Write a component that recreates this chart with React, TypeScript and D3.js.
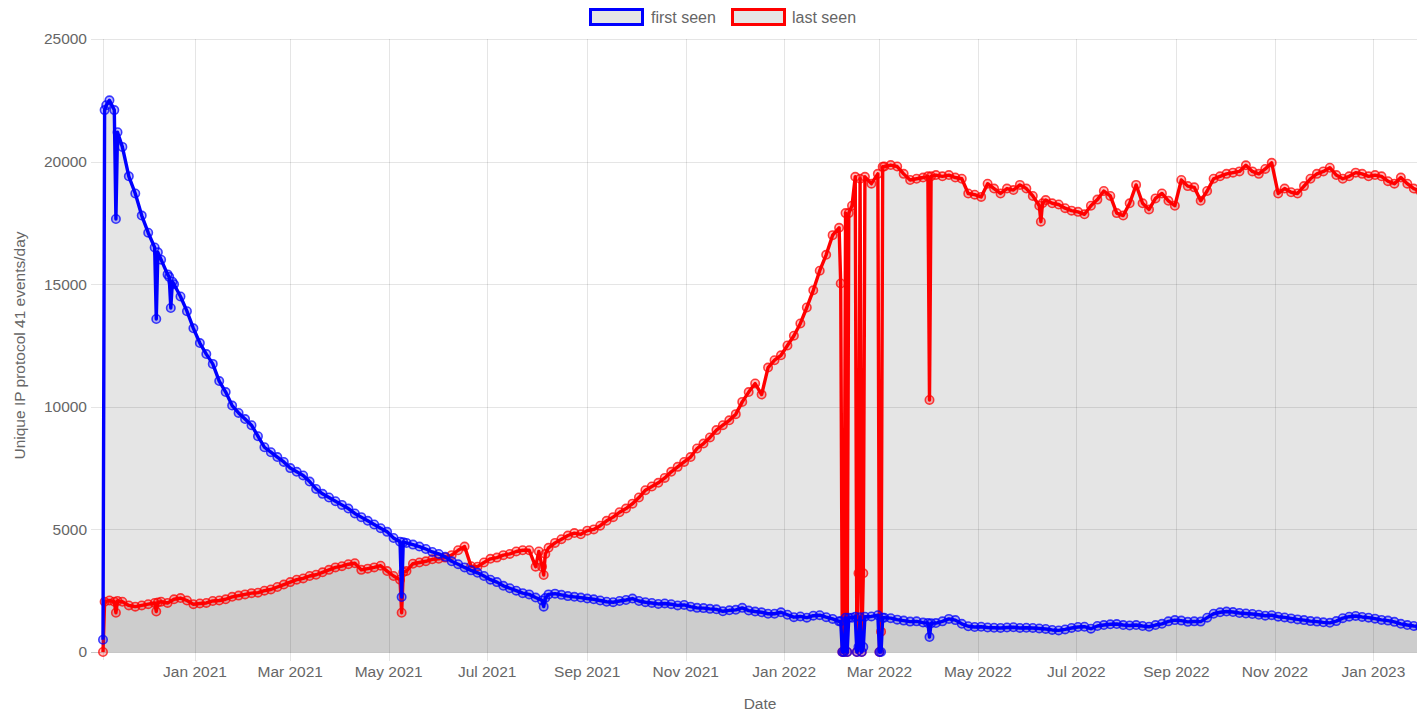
import React from "react";
import * as d3 from "d3";

// ---------- data ----------
const START_DATE = "2020-11-05";
const STEP_DAYS = 4;
const END_DATE = "2023-01-28";

// "first seen" values every STEP_DAYS from START_DATE
const firstSeen = [
  500, 22500, 17660, 20600, 19400, 18700, 17800, 17100, 16500, 16000,
  15400, 15000, 14500, 13900, 13200, 12600, 12150, 11750, 11050, 10600,
  10050, 9750, 9500, 9250, 8800, 8350, 8150, 7950, 7750, 7500,
  7350, 7200, 6950, 6650, 6450, 6300, 6150, 6000, 5850, 5650,
  5500, 5350, 5200, 5050, 4900, 4650, 4500, 4450, 4380, 4300,
  4200, 4080, 4000, 3880, 3700, 3580, 3450, 3330, 3230, 3100,
  2950, 2850, 2700, 2600, 2500, 2400, 2350, 2220, 2100, 2350,
  2380, 2330, 2280, 2250, 2220, 2180, 2150, 2100, 2050, 2030,
  2080, 2120, 2180, 2080, 2030, 2000, 1960, 1980, 1950, 1900,
  1920, 1850, 1800, 1790, 1760, 1740, 1660, 1700, 1720, 1800,
  1690, 1650, 1620, 1560, 1560, 1620, 1520, 1420, 1450, 1400,
  1480, 1500, 1420, 1350, 1250, 1400, 1400, 1440, 1440, 1450,
  1500, 1400, 1380, 1320, 1280, 1240, 1250, 1200, 1150, 1180,
  1250, 1350, 1300, 1150, 1050, 1020, 1030, 1000, 990, 980,
  1000, 1010, 980, 990, 980, 960, 940, 900, 880, 920,
  980, 1020, 1030, 950, 1060, 1100, 1130, 1140, 1100, 1080,
  1100, 1060, 1030, 1100, 1150, 1250, 1300, 1280, 1230, 1250,
  1240, 1400, 1560, 1620, 1650, 1630, 1590, 1570, 1550, 1520,
  1480, 1500, 1440, 1410, 1370, 1330, 1300, 1260, 1240, 1210,
  1190, 1260, 1380, 1440, 1470, 1430, 1400, 1360, 1310, 1280,
  1230, 1150, 1100, 1060, 1030,
];

// "last seen" values every STEP_DAYS from START_DATE
const lastSeen = [
  0, 2100, 1600, 2050, 1900, 1850, 1900, 1950, 2000, 2050,
  2000, 2150, 2200, 2100, 1950, 1980, 2000, 2080, 2100, 2150,
  2250, 2300, 2350, 2400, 2420, 2500, 2550, 2650, 2750, 2850,
  2950, 3000, 3100, 3150, 3250, 3350, 3450, 3500, 3580, 3620,
  3350, 3400, 3450, 3520, 3300, 3100, 2950, 3300, 3600, 3650,
  3700, 3780, 3800, 3850, 3950, 4150, 4300, 3500, 3480, 3650,
  3800, 3850, 3950, 4000, 4100, 4150, 4150, 4050, 3480, 4250,
  4450, 4600, 4750, 4850, 4800, 4950, 5000, 5150, 5350, 5500,
  5700, 5850, 6050, 6300, 6600, 6750, 6900, 7100, 7350, 7550,
  7750, 7950, 8300, 8500, 8750, 9050, 9250, 9450, 9700, 10200,
  10600, 10950, 10500, 11600, 11900, 12100, 12500, 12900, 13400, 14050,
  14750, 15550, 16200, 17000, 17300, 17900, 18200, 19380, 19380, 19100,
  19500, 19800, 19860, 19800, 19500, 19250, 19300, 19350, 19400, 19450,
  19400, 19450, 19350, 19300, 18700, 18650, 18560, 19100, 18900, 18700,
  18900, 18840, 19050, 18900, 18600, 18200, 18430, 18300, 18250, 18100,
  18000, 17950, 17850, 18200, 18450, 18800, 18600, 17900, 17800, 18300,
  19050, 18300, 18050, 18500, 18700, 18400, 18200, 19250, 19000, 18950,
  18400, 18800, 19300, 19400, 19500, 19550, 19600, 19850, 19600, 19500,
  19700, 19950, 18700, 18900, 18750, 18700, 19000, 19300, 19500, 19600,
  19750, 19450, 19300, 19400, 19550, 19500, 19400, 19450, 19400, 19200,
  19100, 19350, 19100, 18900, 18800,
];

// individual days (dips / gaps)
const firstSeenExtra: [string, number][] = [
  ["2020-11-06", 22100], ["2020-11-07", 22300], ["2020-11-12", 22100], ["2020-11-14", 21200],
  ["2020-12-08", 13580], ["2020-12-09", 16300], ["2020-12-16", 15300], ["2020-12-17", 14030],
  ["2020-12-18", 15100], ["2021-05-09", 2240], ["2021-05-10", 4480], ["2021-08-05", 1850],
  ["2021-08-06", 2200], ["2022-02-05", 1250], ["2022-02-06", 0], ["2022-02-07", 0],
  ["2022-02-08", 1400], ["2022-02-09", 0], ["2022-02-10", 1400], ["2022-02-14", 1440],
  ["2022-02-15", 0], ["2022-02-16", 200], ["2022-02-17", 1420], ["2022-02-18", 0],
  ["2022-02-19", 200], ["2022-02-20", 1440], ["2022-03-01", 0], ["2022-03-02", 0],
  ["2022-03-03", 1400], ["2022-03-31", 1180], ["2022-04-01", 610], ["2022-04-02", 1170],
];

const lastSeenExtra: [string, number][] = [
  ["2020-11-06", 2050], ["2020-11-12", 2050], ["2020-11-14", 2080], ["2020-12-08", 1650],
  ["2020-12-09", 2020], ["2021-05-09", 1600], ["2021-05-10", 3250], ["2021-07-31", 3480],
  ["2021-08-02", 4100], ["2021-08-05", 3140], ["2021-08-06", 4000], ["2022-02-05", 15030],
  ["2022-02-06", 0], ["2022-02-07", 0], ["2022-02-08", 17900], ["2022-02-09", 0],
  ["2022-02-10", 17900], ["2022-02-14", 19380], ["2022-02-15", 0], ["2022-02-16", 3210],
  ["2022-02-17", 19300], ["2022-02-18", 0], ["2022-02-19", 3210], ["2022-02-20", 19380],
  ["2022-03-01", 0], ["2022-03-02", 830], ["2022-03-03", 19790], ["2022-03-31", 19400],
  ["2022-04-01", 10280], ["2022-04-02", 19400], ["2022-06-09", 17550], ["2022-06-10", 18300],
];

const yTicks = [0, 5000, 10000, 15000, 20000, 25000];
const seriesNames = ["first seen", "last seen"];
const seriesColors = ["#0000ff", "#ff0000"];

// ---------- helpers ----------
const parse = d3.utcParse("%Y-%m-%d");

type Pt = { date: Date; value: number };

function buildSeries(base: number[], extra: [string, number][]): Pt[] {
  const start = parse(START_DATE)!;
  const m = new Map<number, number>();
  base.forEach((v, i) => m.set(+d3.utcDay.offset(start, i * STEP_DAYS), v));
  extra.forEach(([d, v]) => m.set(+parse(d)!, v));
  return Array.from(m, ([t, v]) => ({ date: new Date(t), value: v })).sort(
    (a, b) => +a.date - +b.date
  );
}

const W = 1417;
const H = 711;
const M = { left: 103, right: 1417, top: 39, bottom: 652 };
const FONT = "'Liberation Sans', Arial, Helvetica, sans-serif";
const TEXT = "#666";
const GRID = "rgba(0,0,0,0.1)";

export default function App() {
  const x = d3
    .scaleUtc()
    .domain([parse(START_DATE)!, parse(END_DATE)!])
    .range([M.left, M.right]);
  const y = d3.scaleLinear().domain([0, 25000]).range([M.bottom, M.top]);

  const blue = buildSeries(firstSeen, firstSeenExtra);
  const red = buildSeries(lastSeen, lastSeenExtra);

  const line = d3
    .line<Pt>()
    .x((d) => x(d.date))
    .y((d) => y(d.value));
  const area = d3
    .area<Pt>()
    .x((d) => x(d.date))
    .y0(y(0))
    .y1((d) => y(d.value));

  const xTicks = x.ticks(d3.utcMonth.every(2)!);
  const fmt = d3.utcFormat("%b %Y");

  const datasets = [
    { data: red, color: seriesColors[1] },
    { data: blue, color: seriesColors[0] },
  ];

  const legend = [
    { name: seriesNames[0], color: seriesColors[0], bx: 589, tx: 651 },
    { name: seriesNames[1], color: seriesColors[1], bx: 731, tx: 792 },
  ];

  return (
    <svg
      width={W}
      height={H}
      style={{ position: "absolute", left: 0, top: 0, background: "#fff" }}
      fontFamily={FONT}
    >
      {/* horizontal grid */}
      {yTicks.map((t) => (
        <line
          key={"hy" + t}
          x1={M.left - 12}
          x2={W}
          y1={Math.round(y(t)) + 0.5}
          y2={Math.round(y(t)) + 0.5}
          stroke={t === 0 ? "rgba(0,0,0,0.22)" : GRID}
          strokeWidth={1}
        />
      ))}
      {/* vertical grid */}
      <line
        x1={M.left + 0.5}
        x2={M.left + 0.5}
        y1={M.top}
        y2={M.bottom + 8}
        stroke={GRID}
      />
      {xTicks.map((t) => (
        <line
          key={"vx" + +t}
          x1={Math.round(x(t)) + 0.5}
          x2={Math.round(x(t)) + 0.5}
          y1={M.top}
          y2={M.bottom + 9}
          stroke={GRID}
          strokeWidth={1}
        />
      ))}

      {/* fills */}
      {datasets.map((ds, i) => (
        <path key={"a" + i} d={area(ds.data)!} fill="rgba(0,0,0,0.1)" />
      ))}

      {/* lines & points */}
      {datasets.map((ds, i) => (
        <g key={"s" + i}>
          <path
            d={line(ds.data)!}
            fill="none"
            stroke={ds.color}
            strokeWidth={3.4}
            strokeLinejoin="round"
          />
          {ds.data.map((d, j) => (
            <circle
              key={j}
              cx={x(d.date)}
              cy={y(d.value)}
              r={4.2}
              fill={ds.color}
              fillOpacity={0.25}
              stroke={ds.color}
              strokeOpacity={0.75}
              strokeWidth={1.6}
            />
          ))}
        </g>
      ))}

      {/* y tick labels */}
      {yTicks.map((t) => (
        <text
          key={"ly" + t}
          x={M.left - 16}
          y={y(t)}
          dy="0.35em"
          textAnchor="end"
          fontSize={15.5}
          fill={TEXT}
        >
          {t}
        </text>
      ))}
      {/* x tick labels */}
      {xTicks.map((t) => (
        <text
          key={"lx" + +t}
          x={x(t)}
          y={677}
          textAnchor="middle"
          fontSize={15.5}
          fill={TEXT}
        >
          {fmt(t)}
        </text>
      ))}

      {/* axis titles */}
      <text
        transform={`translate(25,${(M.top + M.bottom) / 2}) rotate(-90)`}
        textAnchor="middle"
        fontSize={15.5}
        fill={TEXT}
      >
        Unique IP protocol 41 events/day
      </text>
      <text x={760} y={709} textAnchor="middle" fontSize={15.5} fill={TEXT}>
        Date
      </text>

      {/* legend */}
      {legend.map((l) => (
        <g key={l.name}>
          <rect
            x={l.bx + 1.5}
            y={9.5}
            width={52}
            height={15}
            fill="#e5e5e5"
            stroke={l.color}
            strokeWidth={3}
          />
          <text x={l.tx} y={22.5} fontSize={16} fill={TEXT}>
            {l.name}
          </text>
        </g>
      ))}
    </svg>
  );
}
